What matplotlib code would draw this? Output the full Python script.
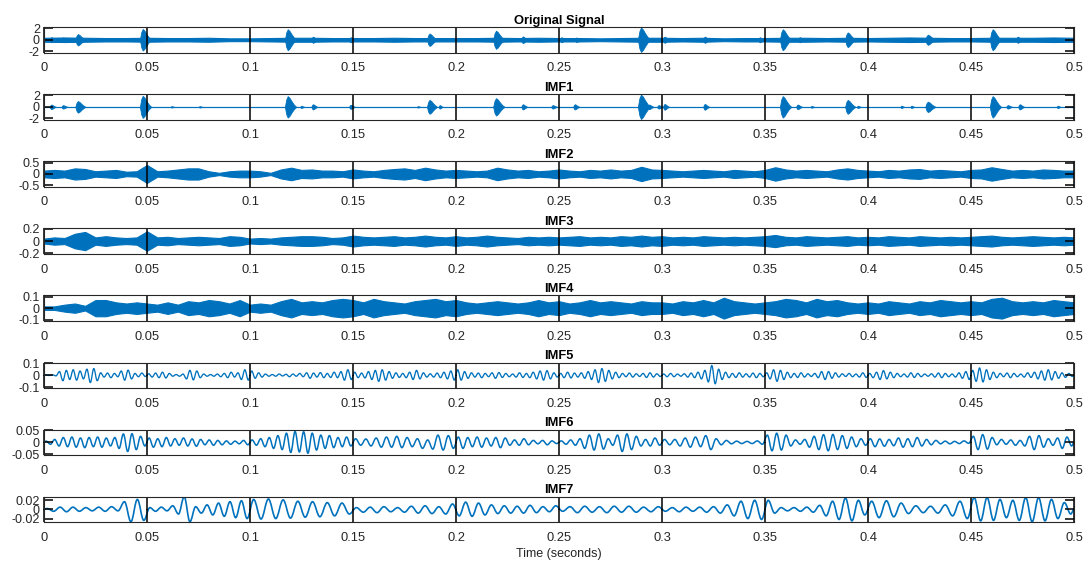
import numpy as np
import matplotlib
matplotlib.use('Agg')
import matplotlib.pyplot as plt
from matplotlib.path import Path
from matplotlib.patches import PathPatch

plt.rcParams['font.family'] = ['Liberation Sans', 'DejaVu Sans']

blue = '#0072BD'
dark = '#262626'

titles = ['Original Signal', 'IMF1', 'IMF2', 'IMF3', 'IMF4', 'IMF5', 'IMF6', 'IMF7']
ylims = [2.25, 2.2, 0.57, 0.21, 0.11, 0.105, 0.053, 0.028]
yticks = [2, 2, 0.5, 0.2, 0.1, 0.1, 0.05, 0.02]
xticks = [0, 0.05, 0.1, 0.15, 0.2, 0.25, 0.3, 0.35, 0.4, 0.45, 0.5]

# --- Original signal: noise floor (every 0.01 s) + bursts ---
orig_base = [0.35, 0.4, 0.35, 0.3, 0.3, 0.35, 0.3, 0.3, 0.35, 0.25,
             0.25, 0.3, 0.35, 0.35, 0.3, 0.3, 0.3, 0.35, 0.3, 0.3,
             0.3, 0.3, 0.35, 0.3, 0.35, 0.3, 0.3, 0.25, 0.3, 0.35,
             0.35, 0.3, 0.35, 0.25, 0.3, 0.3, 0.35, 0.35, 0.3, 0.35,
             0.3, 0.35, 0.4, 0.35, 0.3, 0.3, 0.35, 0.35, 0.35, 0.4, 0.35]
orig_burst_t = [0.0037, 0.0094, 0.0167, 0.0482, 0.1186, 0.1307, 0.149, 0.1874,
                0.2197, 0.2326, 0.2513, 0.2586, 0.2901, 0.3014, 0.3209, 0.3476,
                0.3589, 0.367, 0.3904, 0.4293, 0.4608, 0.4728]
orig_burst_amp = [0.45, 0.4, 1.0, 1.9, 1.85, 0.55, 0.45, 1.1,
                  1.6, 0.6, 0.45, 0.4, 2.15, 0.55, 0.55, 0.45,
                  1.85, 0.45, 1.3, 0.9, 1.85, 0.55]
orig_burst_dur = [0.003, 0.003, 0.005, 0.0055, 0.0055, 0.003, 0.003, 0.005,
                  0.0055, 0.003, 0.003, 0.003, 0.006, 0.003, 0.003, 0.003,
                  0.0055, 0.003, 0.005, 0.005, 0.0055, 0.003]

# --- IMF1: near-zero floor + bursts ---
imf1_base = [0.06] * 51
imf1_burst_t = [0.0037, 0.0094, 0.0167, 0.0482, 0.062, 0.0757, 0.1186, 0.125,
                0.1307, 0.149, 0.1816, 0.1874, 0.1922, 0.2197, 0.2326, 0.2471,
                0.2578, 0.2901, 0.2939, 0.2985, 0.3014, 0.3209, 0.3589, 0.366,
                0.3727, 0.3904, 0.3952, 0.4163, 0.4212, 0.4293, 0.4608, 0.468,
                0.4738, 0.4922]
imf1_burst_amp = [0.4, 0.3, 1.0, 1.9, 0.12, 0.12, 1.85, 0.2,
                  0.45, 0.35, 0.12, 1.2, 0.3, 1.5, 0.45, 0.3,
                  0.45, 2.1, 0.4, 0.3, 0.5, 0.5, 1.85, 0.4,
                  0.15, 1.2, 0.2, 0.2, 0.2, 0.9, 1.85, 0.3,
                  0.45, 0.2]
imf1_burst_dur = [0.003, 0.003, 0.005, 0.0055, 0.002, 0.002, 0.0055, 0.002,
                  0.003, 0.003, 0.002, 0.005, 0.002, 0.0055, 0.003, 0.003,
                  0.003, 0.006, 0.003, 0.003, 0.003, 0.003, 0.0055, 0.003,
                  0.002, 0.005, 0.002, 0.002, 0.002, 0.005, 0.0055, 0.003,
                  0.003, 0.002]

# --- IMF2..IMF4: envelopes every 0.005 s ---
imf2_env = [0.15, 0.18, 0.15, 0.25, 0.22, 0.12, 0.15, 0.18, 0.10, 0.12,
            0.40, 0.12, 0.15, 0.20, 0.25, 0.25, 0.12, 0.05, 0.12, 0.15,
            0.15, 0.12, 0.05, 0.20, 0.28, 0.18, 0.20, 0.15, 0.15, 0.12,
            0.20, 0.15, 0.12, 0.18, 0.22, 0.25, 0.18, 0.28, 0.20, 0.15,
            0.18, 0.15, 0.12, 0.15, 0.28, 0.20, 0.15, 0.18, 0.12, 0.15,
            0.20, 0.15, 0.12, 0.18, 0.15, 0.20, 0.15, 0.18, 0.32, 0.20,
            0.18, 0.15, 0.12, 0.15, 0.18, 0.15, 0.12, 0.18, 0.15, 0.12,
            0.18, 0.30, 0.20, 0.15, 0.18, 0.15, 0.12, 0.20, 0.25, 0.18,
            0.15, 0.12, 0.18, 0.15, 0.20, 0.22, 0.15, 0.18, 0.15, 0.12,
            0.18, 0.20, 0.30, 0.22, 0.15, 0.18, 0.15, 0.20, 0.18, 0.15, 0.15]
imf3_env = [0.04, 0.06, 0.05, 0.12, 0.15, 0.06, 0.08, 0.06, 0.05, 0.06,
            0.16, 0.06, 0.07, 0.05, 0.06, 0.07, 0.06, 0.05, 0.08, 0.07,
            0.04, 0.05, 0.04, 0.06, 0.07, 0.08, 0.08, 0.07, 0.05, 0.06,
            0.09, 0.07, 0.06, 0.07, 0.08, 0.06, 0.07, 0.09, 0.07, 0.06,
            0.08, 0.06, 0.07, 0.09, 0.07, 0.06, 0.05, 0.07, 0.06, 0.07,
            0.06, 0.07, 0.08, 0.06, 0.07, 0.06, 0.08, 0.07, 0.09, 0.07,
            0.08, 0.06, 0.07, 0.06, 0.08, 0.07, 0.06, 0.07, 0.06, 0.07,
            0.08, 0.10, 0.07, 0.06, 0.08, 0.07, 0.06, 0.07, 0.08, 0.06,
            0.07, 0.06, 0.08, 0.07, 0.06, 0.08, 0.07, 0.06, 0.07, 0.06,
            0.07, 0.08, 0.09, 0.07, 0.06, 0.07, 0.08, 0.07, 0.06, 0.07, 0.06]
imf4_env = [0.015, 0.015, 0.03, 0.04, 0.02, 0.07, 0.07, 0.05, 0.04, 0.05,
            0.04, 0.03, 0.05, 0.03, 0.06, 0.05, 0.07, 0.06, 0.04, 0.07,
            0.03, 0.04, 0.03, 0.06, 0.08, 0.05, 0.06, 0.05, 0.07, 0.08,
            0.07, 0.05, 0.08, 0.06, 0.05, 0.04, 0.06, 0.07, 0.08, 0.06,
            0.07, 0.05, 0.04, 0.05, 0.06, 0.05, 0.04, 0.05, 0.07, 0.05,
            0.06, 0.04, 0.05, 0.07, 0.05, 0.06, 0.05, 0.04, 0.06, 0.05,
            0.05, 0.04, 0.06, 0.05, 0.07, 0.05, 0.09, 0.06, 0.05, 0.04,
            0.05, 0.06, 0.08, 0.07, 0.05, 0.08, 0.06, 0.07, 0.05, 0.04,
            0.05, 0.04, 0.06, 0.05, 0.04, 0.06, 0.05, 0.07, 0.06, 0.05,
            0.06, 0.05, 0.08, 0.09, 0.06, 0.05, 0.06, 0.05, 0.07, 0.06, 0.05]

# --- IMF5..IMF7: successive extrema per 0.05 s segment (units of 0.001) ---
imf5_peaks = [
    [2, -2, 3, -5, 30, -45, 40, -35, 45, -40, 35, -30, 50, -60, 55, -45, 20, -15, 18, -20, 15, -12, 35, -40, 42, -30, 15, -12, 18, -10],
    [12, -15, 18, -20, 25, -22, 15, -8, 6, -8, 10, -30, 40, -38, 35, -20, 10, -8, 6, -8, 10, -12, 15, -20, 25, -15, 20, -35, 45, -40],
    [35, -25, 20, -15, 10, -8, 6, -8, 10, -6, 8, -12, 10, -8, 15, -12, 20, -25, 18, -15, 22, -20, 15, -18, 25, -20, 30, -40, 45, -35],
    [25, -20, 18, -22, 30, -35, 40, -50, 45, -40, 30, -25, 20, -18, 15, -20, 25, -35, 40, -30, 20, -15, 12, -15, 18, -20, 25, -30, 35, -40],
    [45, -40, 30, -25, 20, -15, 18, -20, 15, -12, 20, -25, 22, -18, 15, -12, 10, -15, 20, -18, 15, -20, 25, -30, 35, -40, 38, -30, 20, -15],
    [15, -20, 25, -22, 18, -15, 20, -25, 30, -35, 45, -60, 55, -50, 40, -30, 25, -20, 15, -12, 18, -15, 12, -10, 15, -18, 20, -15, 12, -10],
    [10, -12, 15, -12, 10, -8, 12, -15, 18, -20, 25, -30, 40, -55, 80, -70, 50, -35, 25, -20, 15, -18, 20, -15, 12, -15, 18, -20, 15, -12],
    [20, -30, 45, -50, 40, -35, 25, -20, 15, -18, 20, -15, 12, -10, 15, -20, 30, -35, 30, -25, 20, -15, 12, -10, 15, -12, 10, -15, 20, -18],
    [15, -20, 25, -35, 38, -30, 25, -20, 15, -12, 10, -15, 20, -18, 15, -12, 10, -8, 12, -15, 18, -20, 15, -12, 10, -15, 20, -25, 30, -35],
    [40, -50, 60, -55, 45, -35, 25, -20, 15, -12, 18, -20, 15, -12, 10, -15, 20, -18, 25, -30, 35, -40, 45, -38, 30, -25, 20, -18, 15, -10],
]
imf6_peaks = [
    [5, -8, 12, -15, 20, -18, 22, -20, 18, -22, 20, -18, 22, -20, 18, -15, 20, -25, 35, -38, 36, -30, 25, -15],
    [18, -20, 15, -18, 20, -15, 15, -12, 18, -15, 14, -16, 12, -10, 10, -12, 8, -10, 6, -8, 5, -6, 8, -10],
    [10, -12, 15, -18, 20, -25, 28, -30, 38, -42, 45, -40, 44, -45, 38, -32, 30, -25, 28, -22, 20, -18, 22, -15],
    [15, -12, 14, -15, 18, -20, 22, -20, 25, -22, 20, -18, 15, -25, 10, -28, 30, -32, 28, -25],
    [22, -25, 20, -18, 22, -20, 18, -15, 20, -22, 18, -12, 10, -12, 15, -10, 8, -6, 8, -10, 6, -5],
    [6, -8, 10, -12, 15, -25, 30, -32, 35, -28, 15, -12, 30, -38, 35, -30, 25, -15, 12, -15, 18, -12],
    [12, -10, 12, -15, 18, -20, 22, -18, 28, -30, 15, -10, 8, -6, 5, -5, 4, -5, 6, -8],
    [30, -35, 38, -32, 30, -15, 10, -8, 12, -20, 25, -30, 32, -35, 33, -30, 28, -25, 22, -18, 15, -12],
    [15, -18, 14, -16, 12, -14, 18, -20, 15, -18, 20, -15, 12, -10, 8, -6, 5, -6, 4, -5, 6, -4],
    [25, -30, 32, -28, 20, -10, 12, -8, 10, -12, 8, -15, 25, -30, 28, -20, 15, -12, 18, -25, 22, -15],
]
imf7_peaks = [
    [2, -4, 5, -5, 5, -4, 4, -3, 5, -4, 6, -3, 17, -27, 22, -24],
    [4, -4, 5, -3, 8, -10, 28, -27, 6, -8, 10, -12, 14, -15, 17, -18, 19, -20],
    [22, -21, 23, -20, 21, -19, 18, -17, 17, -16, 15, -14, 14, -10],
    [4, -6, 5, -7, 6, -5, 4, -6, 7, -8, 8, -9, 6, -10, 12],
    [-14, 16, -15, 14, -12, 10, -9, 8, -8, 7, -8, 9, -7, 6, -5, 8],
    [-4, 6, -7, 7, -6, 6, -7, 7, -6, 7, -6, 5, -5, 6],
    [-4, 4, -5, 5, -4, 5, -6, 6, -8, 10, -14, 18, -20, 20, -22],
    [20, -8, 4, -3, 4, -4, 5, -6, 9, -14, 18, -22, 25, -25, 20, -12],
    [18, -18, 19, -16, 14, -9, 8, -7, 7, -8, 10, -14, 18, -20],
    [26, -25, 26, -24, 22, -18, 20, -24, 26, -27, 26, -25, 22, -20, 15, -10],
]

# burst outline (fraction of duration, fraction of amplitude)
burst_shape_x = [-0.3, -0.18, -0.05, 0.1, 0.3, 0.5, 0.7]
burst_shape_y = [0.0, 0.7, 1.0, 0.85, 0.5, 0.2, 0.0]


def draw_band(ax, env, step):
    env = np.asarray(env)
    t = np.arange(len(env)) * step
    ax.fill_between(t, -env, env, color=blue, lw=0.8)


def draw_bursts(ax, tc, amp, dur):
    sx = np.array(burst_shape_x)
    sy = np.array(burst_shape_y)
    for t, a, d in zip(tc, amp, dur):
        xs = t + sx * d
        ax.fill_between(xs, -a * sy, a * sy, color=blue, lw=0.6)


def draw_peaks(ax, segs, seg_len=0.05, unit=0.001, lw=0.9):
    ts, vs = [0.0], [0.0]
    for k, seg in enumerate(segs):
        n = len(seg)
        ts.extend(seg_len * k + seg_len * (np.arange(n) + 0.5) / n)
        vs.extend(np.asarray(seg) * unit)
    ts.append(seg_len * len(segs))
    vs.append(0.0)
    # smooth half-waves between successive extrema (cubic Bezier, flat at the peaks)
    verts = [(ts[0], vs[0])]
    codes = [Path.MOVETO]
    for i in range(1, len(ts)):
        dt = ts[i] - ts[i - 1]
        verts += [(ts[i - 1] + 0.364 * dt, vs[i - 1]), (ts[i] - 0.364 * dt, vs[i]), (ts[i], vs[i])]
        codes += [Path.CURVE4] * 3
    ax.add_patch(PathPatch(Path(verts, codes), fill=False, edgecolor=blue, lw=lw))


fig = plt.figure(figsize=(10.9, 5.63), dpi=100)
W, H = 1090.0, 563.0
axes = []
for i in range(8):
    top = 27 + 67.1 * i
    ax = fig.add_axes([44 / W, 1 - (top + 25.5) / H, 1030 / W, 25.5 / H])
    axes.append(ax)

draw_band(axes[0], orig_base, 0.01)
draw_bursts(axes[0], orig_burst_t, orig_burst_amp, orig_burst_dur)
draw_band(axes[1], imf1_base, 0.01)
draw_bursts(axes[1], imf1_burst_t, imf1_burst_amp, imf1_burst_dur)
draw_band(axes[2], imf2_env, 0.005)
draw_band(axes[3], imf3_env, 0.005)
draw_band(axes[4], imf4_env, 0.005)
draw_peaks(axes[5], imf5_peaks, lw=0.95)
draw_peaks(axes[6], imf6_peaks, lw=1.1)
draw_peaks(axes[7], imf7_peaks, lw=1.2)

for i, ax in enumerate(axes):
    ax.set_xlim(0, 0.5)
    ax.set_ylim(-ylims[i], ylims[i])
    ax.set_xticks(xticks)
    ax.set_xticklabels(['%g' % v for v in xticks])
    yt = yticks[i]
    ax.set_yticks([-yt, 0, yt])
    ax.set_yticklabels(['%g' % -yt, '0', '%g' % yt])
    ax.tick_params(direction='in', width=1.1, color='black',
                   top=True, right=True, labelsize=9.3, labelcolor=dark)
    ax.tick_params(axis='x', length=9.2, pad=7)
    ax.tick_params(axis='y', length=6.5, pad=3, labelsize=9)
    for s in ax.spines.values():
        s.set_color(dark)
        s.set_linewidth(0.8)
    ax.set_title(titles[i], fontsize=9.3, fontweight='bold', pad=2.5)

axes[-1].set_xlabel('Time (seconds)', fontsize=9, color=dark, labelpad=3)

fig.savefig('out.png', dpi=100)
